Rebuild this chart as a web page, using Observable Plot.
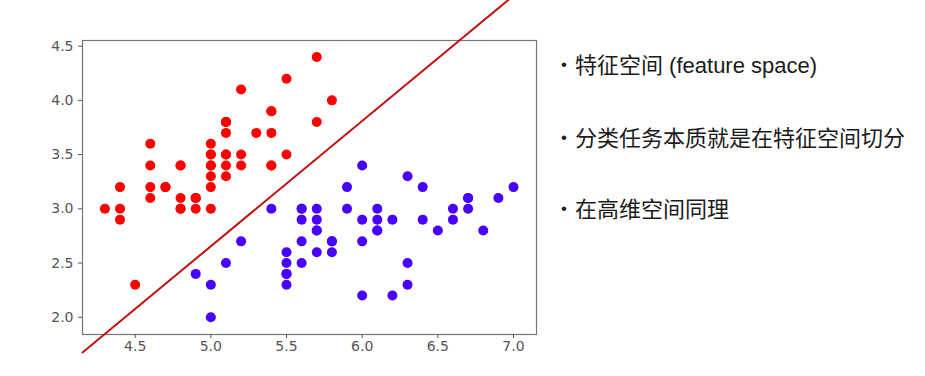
<!DOCTYPE html>
<html>
<head>
<meta charset="utf-8">
<script src="https://cdn.jsdelivr.net/npm/d3@7"></script>
<script src="https://cdn.jsdelivr.net/npm/@observablehq/plot@0.6"></script>
<style>
  body { margin: 0; background: #fff; }
  #wrap { position: relative; width: 925px; height: 376px; overflow: hidden; }
  #chart { position: absolute; left: 0; top: 0; }
  #chart svg g text { font-family: "DejaVu Sans", sans-serif !important; font-size: 14px !important; }
  .bullet { position: absolute; font-family: "Liberation Sans", "Noto Sans CJK SC", sans-serif; font-size: 17px; color: #222; line-height: 30px; }
  .note { position: absolute; font-family: "Liberation Sans", "Noto Sans CJK SC", sans-serif; font-size: 22px; color: #1a1a1a; line-height: 30px; white-space: nowrap; }
</style>
</head>
<body>
<div id="wrap">
  <div id="chart"></div>
  <div id="notes"></div>
</div>
<script>
// Iris: sepal length (x) vs sepal width (y)
const setosaX = [5.1,4.9,4.7,4.6,5.0,5.4,4.6,5.0,4.4,4.9,5.4,4.8,4.8,4.3,5.8,5.7,5.4,5.1,5.7,5.1,5.4,5.1,4.6,5.1,4.8,5.0,5.0,5.2,5.2,4.7,4.8,5.4,5.2,5.5,4.9,5.0,5.5,4.9,4.4,5.1,5.0,4.5,4.4,5.0,5.1,4.8,5.1,4.6,5.3,5.0];
const setosaY = [3.5,3.0,3.2,3.1,3.6,3.9,3.4,3.4,2.9,3.1,3.7,3.4,3.0,3.0,4.0,4.4,3.9,3.5,3.8,3.8,3.4,3.7,3.6,3.3,3.4,3.0,3.4,3.5,3.4,3.2,3.1,3.4,4.1,4.2,3.1,3.2,3.5,3.1,3.0,3.4,3.5,2.3,3.2,3.5,3.8,3.0,3.8,3.2,3.7,3.3];
const versicolorX = [7.0,6.4,6.9,5.5,6.5,5.7,6.3,4.9,6.6,5.2,5.0,5.9,6.0,6.1,5.6,6.7,5.6,5.8,6.2,5.6,5.9,6.1,6.3,6.1,6.4,6.6,6.8,6.7,6.0,5.7,5.5,5.5,5.8,6.0,5.4,6.0,6.7,6.3,5.6,5.5,5.5,6.1,5.8,5.0,5.6,5.7,5.7,6.2,5.1,5.7];
const versicolorY = [3.2,3.2,3.1,2.3,2.8,2.8,3.3,2.4,2.9,2.7,2.0,3.0,2.2,2.9,2.9,3.1,3.0,2.7,2.2,2.5,3.2,2.8,2.5,2.8,2.9,3.0,2.8,3.0,2.9,2.6,2.4,2.4,2.7,2.7,3.0,3.4,3.1,2.3,3.0,2.5,2.6,3.0,2.6,2.3,2.7,3.0,2.9,2.9,2.5,2.8];
const classes = ["setosa", "versicolor"];
const xTicks = [4.5, 5.0, 5.5, 6.0, 6.5, 7.0];
const yTicks = [2.0, 2.5, 3.0, 3.5, 4.0, 4.5];
// decision line (two end points in data units)
const boundaryX = [4.152, 7.03];
const boundaryY = [1.675, 5.0];
const notes = ["特征空间 (feature space)", "分类任务本质就是在特征空间切分", "在高维空间同理"];

const points = [
  ...setosaX.map((x, i) => ({x, y: setosaY[i], cls: classes[0]})),
  ...versicolorX.map((x, i) => ({x, y: versicolorY[i], cls: classes[1]}))
];
const boundary = boundaryX.map((x, i) => ({x, y: boundaryY[i]}));
const fmt = d3.format(".1f");

const chart = Plot.plot({
  width: 545,
  height: 376,
  marginLeft: 82,
  marginRight: 9,
  marginTop: 40,
  marginBottom: 42,
  style: "font-family: 'DejaVu Sans'; font-size: 14px; background: white; overflow: visible;",
  x: {domain: [4.152, 7.152], label: null},
  y: {domain: [1.841, 4.552], label: null},
  color: {domain: classes, range: ["#ff0000", "#4800ff"]},
  marks: [
    Plot.frame({stroke: "#777", strokeWidth: 1.2}),
    Plot.dot(points, {x: "x", y: "y", r: 5, fill: "cls"}),
    Plot.line(boundary, {x: "x", y: "y", stroke: "#c01010", strokeWidth: 2}),
    Plot.axisX({ticks: xTicks, tickFormat: fmt, tickSize: 4, tickPadding: 3, fontSize: 14, color: "#555", label: null}),
    Plot.axisY({ticks: yTicks, tickFormat: fmt, tickSize: 4, tickPadding: 5, fontSize: 14, color: "#555", label: null})
  ]
});
document.getElementById("chart").append(chart);

const notesDiv = document.getElementById("notes");
const centers = [66, 139, 210];
notes.forEach((t, i) => {
  const b = document.createElement("div");
  b.className = "bullet";
  b.textContent = "•";
  b.style.left = "561px";
  b.style.top = (centers[i] - 16) + "px";
  notesDiv.append(b);
  const d = document.createElement("div");
  d.className = "note";
  d.textContent = t;
  d.style.left = "575px";
  d.style.top = (centers[i] - 15) + "px";
  notesDiv.append(d);
});
</script>
</body>
</html>
